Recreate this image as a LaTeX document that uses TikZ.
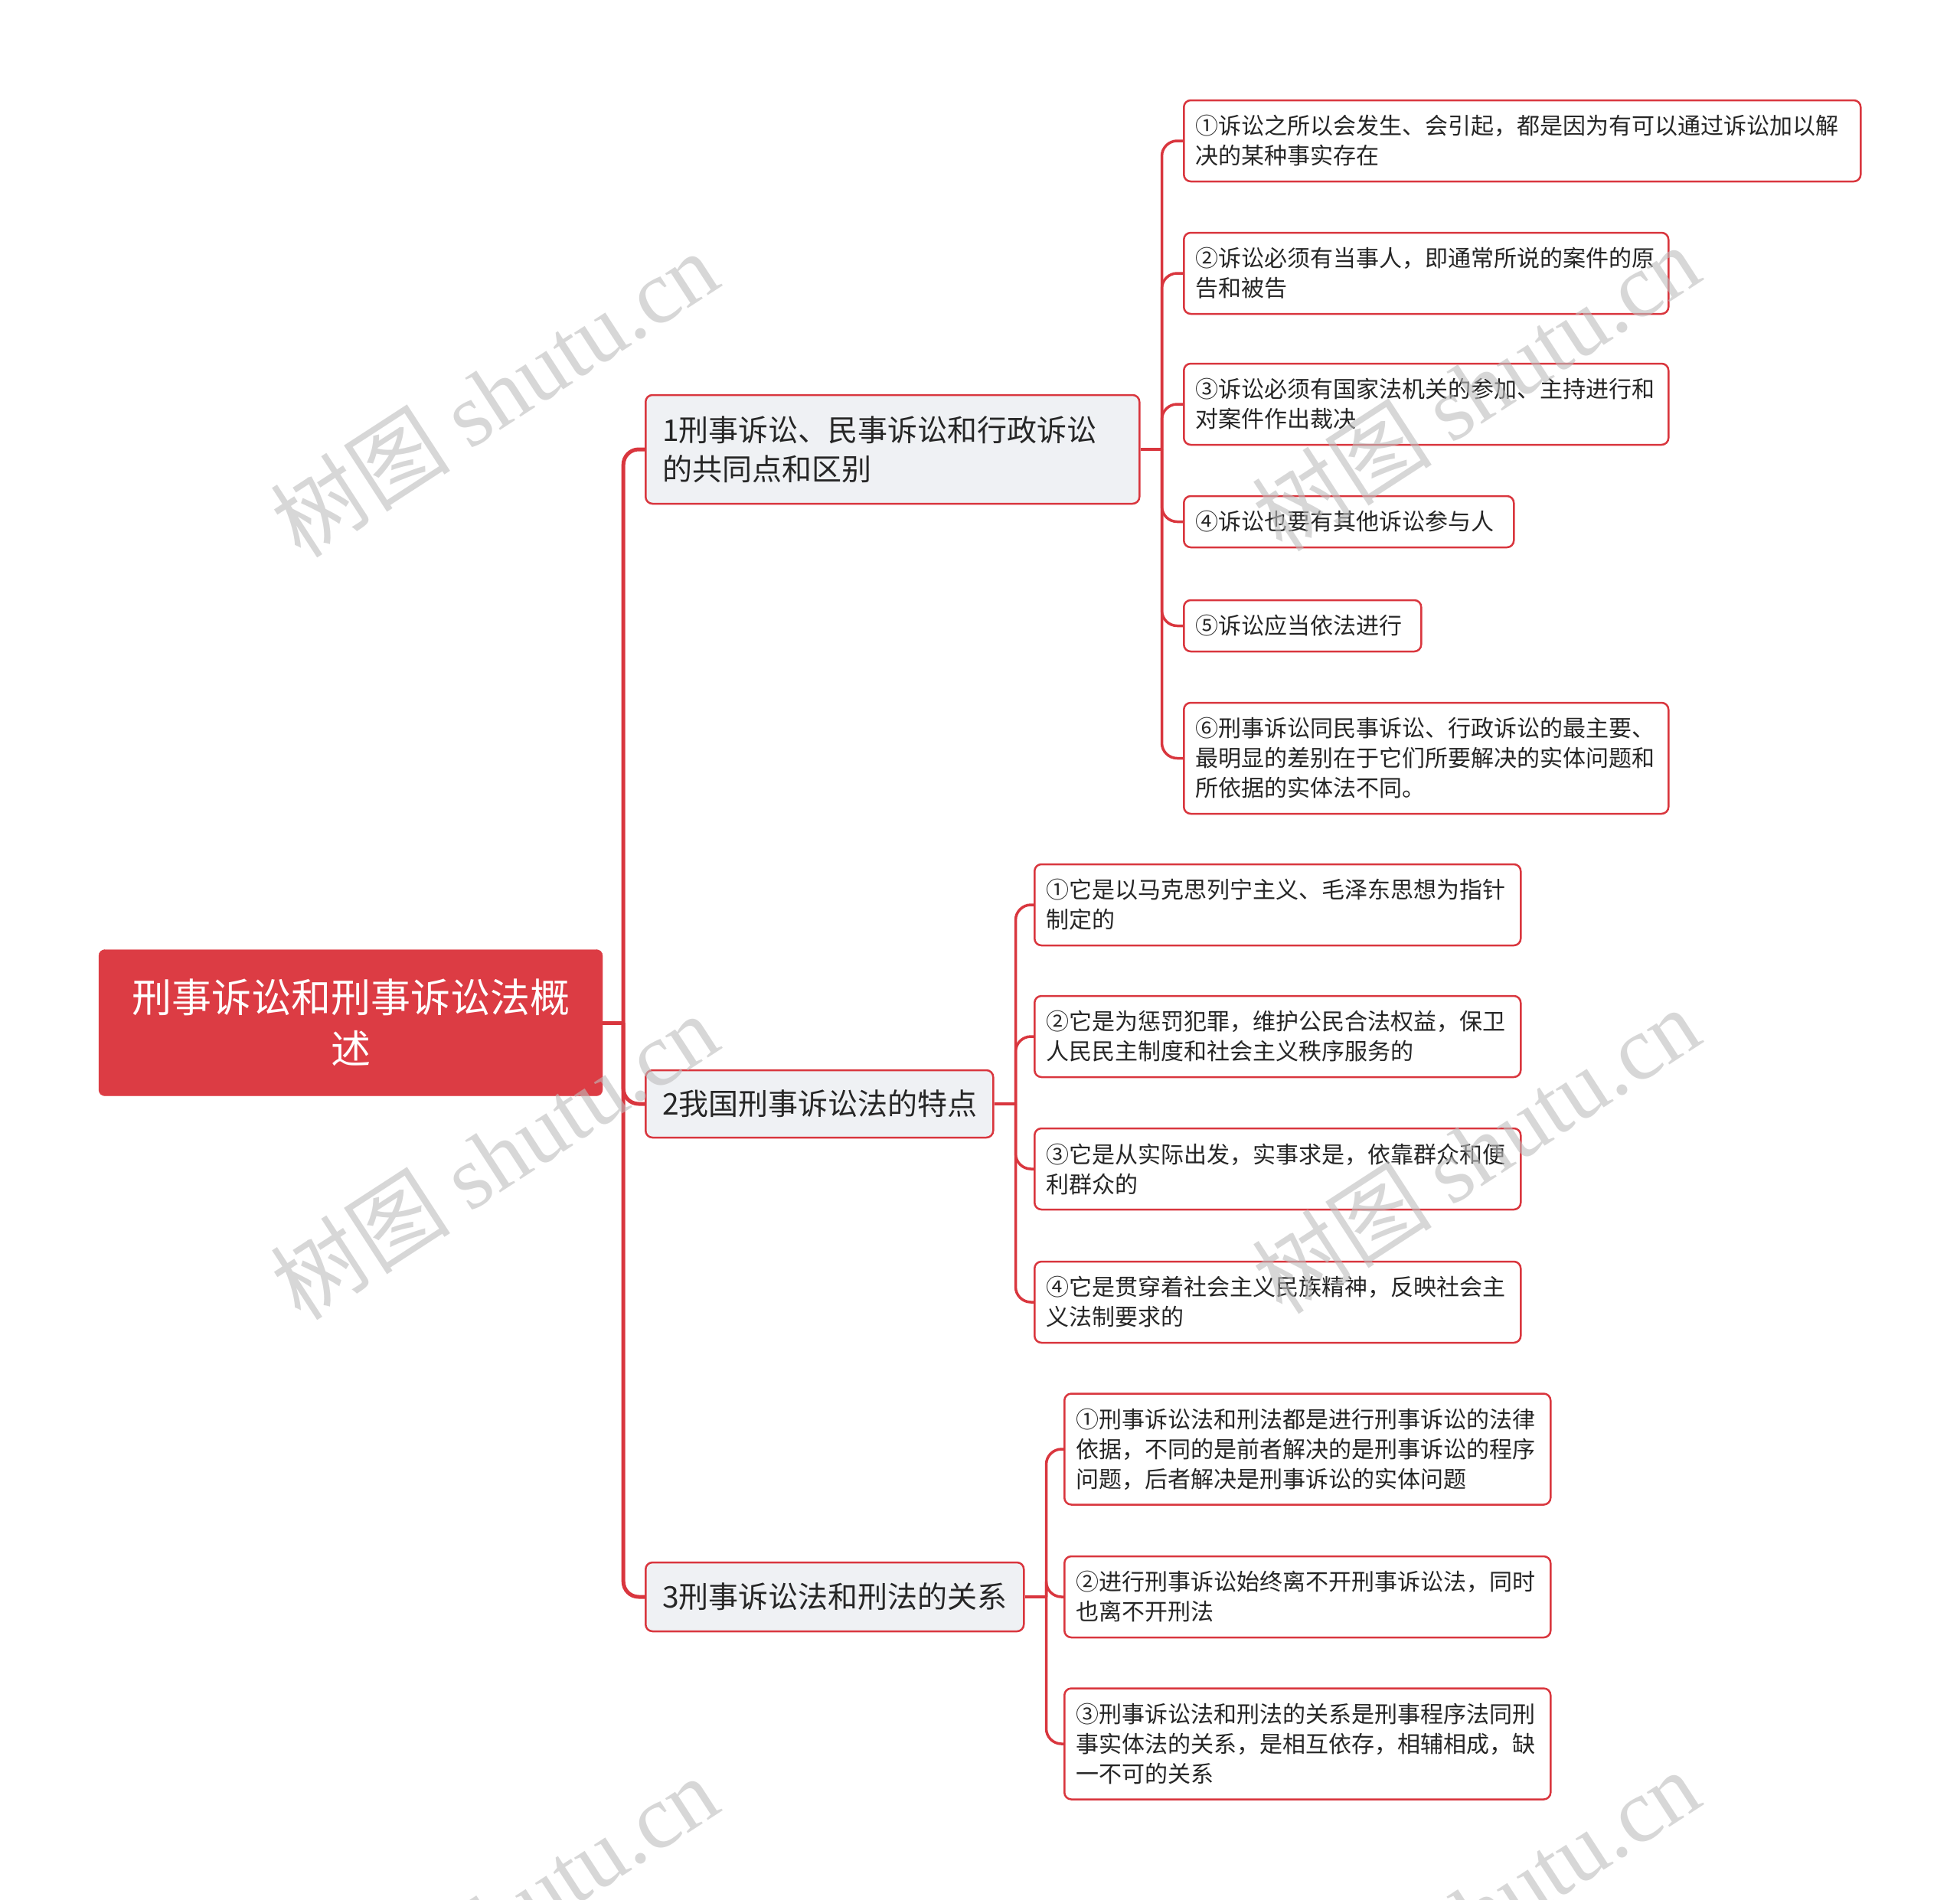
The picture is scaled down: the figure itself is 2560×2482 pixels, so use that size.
\documentclass[tikz,border=0pt]{standalone}
\usepackage{fontspec}
\setmainfont{Noto Sans CJK SC}
\newfontfamily\wmserif{Liberation Serif}
\newfontfamily\wmcjk{Noto Sans CJK SC}
\definecolor{mapred}{HTML}{D9363E}
\definecolor{rootred}{HTML}{DC3C44}
\definecolor{topicgray}{HTML}{EFF1F4}
\definecolor{inkgray}{HTML}{262626}
\definecolor{wmgray}{HTML}{BDBDBD}
\tikzset{
  rootbox/.style={rectangle, rounded corners=8pt, fill=rootred, draw=rootred,
    text=white, font=\fontsize{52}{67}\selectfont, align=center,
    text width=600pt, inner xsep=29pt, minimum height=191pt},
  topicbox/.style={rectangle, rounded corners=9pt, fill=topicgray, draw=mapred,
    line width=2.5pt, text=inkgray, font=\fontsize{39}{51}\selectfont,
    align=left, inner xsep=22pt, inner ysep=6pt, anchor=west},
  leafbox/.style={rectangle, rounded corners=9pt, fill=white, draw=mapred,
    line width=2.5pt, text=inkgray, font=\fontsize{30}{39}\selectfont,
    align=left, inner xsep=15pt, inner ysep=6pt, anchor=west},
  onerow/.style={minimum height=67pt},
  tworow/.style={minimum height=106pt},
  threerow/.style={minimum height=145pt},
  trunk/.style={draw=mapred, line width=5pt, rounded corners=20pt},
  twig/.style={draw=mapred, line width=3.5pt, rounded corners=20pt},
  wmark/.style={text=wmgray, opacity=0.6, rotate=33, font=\fontsize{118}{118}\selectfont, inner sep=0pt}
}
\begin{document}
\begin{tikzpicture}[x=1pt, y=-1pt]
  \useasboundingbox (0,0) rectangle (2560,2482);
  % root and main topics
  \node[rootbox] (root) at (458,1336) {刑事诉讼和刑事诉讼法概\\述};
  \node[topicbox, text width=601pt, minimum height=142pt] (t1) at (842,587)
    {1刑事诉讼、民事诉讼和行政诉讼\\的共同点和区别};
  \node[topicbox, text width=410pt, minimum height=88pt] (t2) at (842,1442)
    {2我国刑事诉讼法的特点};
  \node[topicbox, text width=450pt, minimum height=90pt] (t3) at (842,2086)
    {3刑事诉讼法和刑法的关系};
  % subtopics of t1
  \node[leafbox, tworow, text width=854pt] (t1a) at (1545,184)
    {①诉讼之所以会发生、会引起，都是因为有可以通过诉讼加以解\\决的某种事实存在};
  \node[leafbox, tworow, text width=603pt] (t1b) at (1545,357)
    {②诉讼必须有当事人，即通常所说的案件的原\\告和被告};
  \node[leafbox, tworow, text width=603pt] (t1c) at (1545,528)
    {③诉讼必须有国家法机关的参加、主持进行和\\对案件作出裁决};
  \node[leafbox, onerow, text width=401pt] (t1d) at (1545,681.5)
    {④诉讼也要有其他诉讼参与人};
  \node[leafbox, onerow, text width=280pt] (t1e) at (1545,817.5)
    {⑤诉讼应当依法进行};
  \node[leafbox, threerow, text width=603pt] (t1f) at (1545,990.5)
    {⑥刑事诉讼同民事诉讼、行政诉讼的最主要、\\最明显的差别在于它们所要解决的实体问题和\\所依据的实体法不同。};
  % subtopics of t2
  \node[leafbox, tworow, text width=605pt] (t2a) at (1350,1182)
    {①它是以马克思列宁主义、毛泽东思想为指针\\制定的};
  \node[leafbox, tworow, text width=605pt] (t2b) at (1350,1354)
    {②它是为惩罚犯罪，维护公民合法权益，保卫\\人民民主制度和社会主义秩序服务的};
  \node[leafbox, tworow, text width=605pt] (t2c) at (1350,1527)
    {③它是从实际出发，实事求是，依靠群众和便\\利群众的};
  \node[leafbox, tworow, text width=605pt] (t2d) at (1350,1701)
    {④它是贯穿着社会主义民族精神，反映社会主\\义法制要求的};
  % subtopics of t3
  \node[leafbox, threerow, text width=605pt] (t3a) at (1389,1893)
    {①刑事诉讼法和刑法都是进行刑事诉讼的法律\\依据，不同的是前者解决的是刑事诉讼的程序\\问题，后者解决是刑事诉讼的实体问题};
  \node[leafbox, tworow, text width=605pt] (t3b) at (1389,2086)
    {②进行刑事诉讼始终离不开刑事诉讼法，同时\\也离不开刑法};
  \node[leafbox, threerow, text width=605pt] (t3c) at (1389,2278)
    {③刑事诉讼法和刑法的关系是刑事程序法同刑\\事实体法的关系，是相互依存，相辅相成，缺\\一不可的关系};
  % joints
  \coordinate (hub) at ([xshift=27pt]root.east);
  \coordinate (j1) at ([xshift=28pt]t1.east);
  \coordinate (j2) at ([xshift=28pt]t2.east);
  \coordinate (j3) at ([xshift=28pt]t3.east);
  \begin{scope}[trunk]
    \draw (root.east) -- (hub);
    \draw (hub) |- (t1.west);
    \draw (hub) |- (t2.west);
    \draw (hub) |- (t3.west);
  \end{scope}
  \begin{scope}[twig]
    \draw (t1.east) -- (j1);
    \draw (j1) |- (t1a.west);
    \draw (j1) |- (t1b.west);
    \draw (j1) |- (t1c.west);
    \draw (j1) |- (t1d.west);
    \draw (j1) |- (t1e.west);
    \draw (j1) |- (t1f.west);
    \draw (t2.east) -- (j2);
    \draw (j2) |- (t2a.west);
    \draw (j2) |- (t2b.west);
    \draw (j2) |- (t2c.west);
    \draw (j2) |- (t2d.west);
    \draw (t3.east) -- (j3);
    \draw (j3) |- (t3a.west);
    \draw (j3) |- (t3b.west);
    \draw (j3) |- (t3c.west);
  \end{scope}
  % watermarks
  \node[wmark] (wm1) at (645,514) {\wmcjk 树图 \wmserif shutu.cn};
  \node[wmark] (wm2) at (1927,506) {\wmcjk 树图 \wmserif shutu.cn};
  \node[wmark] (wm3) at (645,1510) {\wmcjk 树图 \wmserif shutu.cn};
  \node[wmark] (wm4) at (1927,1502) {\wmcjk 树图 \wmserif shutu.cn};
  \node[wmark] (wm5) at (645,2506) {\wmcjk 树图 \wmserif shutu.cn};
  \node[wmark] (wm6) at (1927,2498) {\wmcjk 树图 \wmserif shutu.cn};
\end{tikzpicture}
\end{document}
